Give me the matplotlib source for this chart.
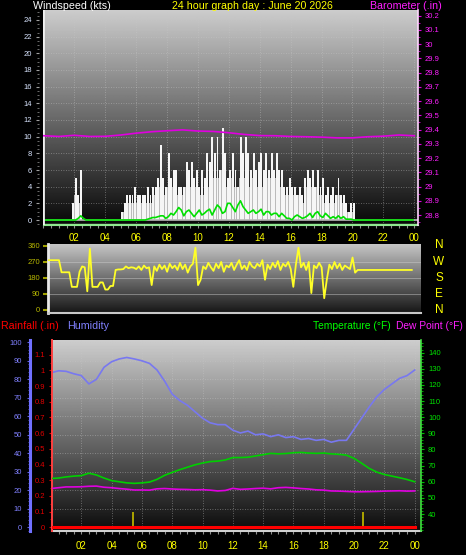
import numpy as np
import matplotlib
matplotlib.use('Agg')
import matplotlib.pyplot as plt
from matplotlib.ticker import MultipleLocator

plt.rcParams['font.family'] = ['Liberation Sans', 'DejaVu Sans']

W, H = 466, 555

# ---------------- data ----------------
# wind gust (kts), 10-minute steps from 00:00
gust = [0, 0, 0, 0, 0, 0,
        0, 0, 0, 0, 0, 2,
        5, 3, 6, 0, 0, 0,
        0, 0, 0, 0, 0, 0,
        0, 0, 0, 0, 0, 0,
        1, 2, 3, 3, 3, 4,
        3, 3, 3, 3, 4, 3,
        4, 4, 5, 9, 5, 4,
        8, 5, 6, 6, 4, 4,
        4, 7, 6, 7, 5, 6,
        4, 6, 5, 8, 7, 10,
        8, 10, 6, 11, 8, 5,
        6, 8, 6, 4, 10, 8,
        10, 8, 6, 8, 6, 7,
        8, 6, 8, 6, 8, 6,
        8, 6, 6, 4, 4, 5,
        4, 4, 3, 4, 3, 5,
        6, 5, 6, 4, 6, 4,
        5, 3, 4, 3, 4, 3,
        5, 3, 3, 2, 1, 2,
        2, 0, 0, 0, 0, 0,
        0, 0, 0, 0, 0, 0,
        0, 0, 0, 0, 0, 0,
        0, 0, 0, 0, 0, 0]
# wind speed (kts), 10-minute steps (grey bars under the gusts)
wind_speed = [0, 0, 0, 0, 0, 0,
              0, 0, 0, 0, 0, 1,
              3, 2, 3, 0, 0, 0,
              0, 0, 0, 0, 0, 0,
              0, 0, 0, 0, 0, 0,
              0, 1, 2, 2, 2, 2,
              2, 2, 2, 2, 2, 2,
              2, 3, 3, 4, 3, 3,
              4, 3, 4, 3, 3, 3,
              3, 4, 4, 4, 3, 4,
              3, 4, 3, 5, 4, 5,
              5, 5, 4, 6, 5, 4,
              4, 5, 4, 3, 5, 5,
              5, 5, 4, 5, 4, 4,
              5, 4, 5, 4, 5, 4,
              5, 4, 4, 3, 3, 3,
              3, 3, 2, 3, 2, 3,
              4, 3, 4, 3, 4, 3,
              3, 2, 3, 2, 3, 2,
              3, 2, 2, 1, 1, 1,
              1, 0, 0, 0, 0, 0,
              0, 0, 0, 0, 0, 0,
              0, 0, 0, 0, 0, 0,
              0, 0, 0, 0, 0, 0]
# average wind (kts), 10-minute steps
avg_wind = [0, 0, 0, 0, 0, 0,
            0, 0, 0, 0, 0, 0,
            0, 0.2, 0.5, 0.2, 0, 0,
            0, 0, 0, 0, 0, 0,
            0, 0, 0, 0, 0, 0,
            0, 0, 0, 0, 0, 0,
            0, 0, 0, 0, 0.1, 0.2,
            0.3, 0.3, 0.4, 0.5, 0.5, 0.2,
            0.4, 0.8, 0.6, 1.0, 1.5, 1.2,
            0.5, 1.0, 1.2, 0.8, 0.4, 0.8,
            1.2, 0.6, 0.8, 1.1, 1.3, 0.6,
            1.2, 1.8, 1.5, 0.8, 1.0, 2.0,
            2.0, 1.5, 1.0, 1.8, 2.3, 1.6,
            1.2, 0.8, 1.0, 1.2, 0.8, 1.0,
            1.3, 0.6, 1.0, 1.0, 0.6, 0.8,
            0.8, 0.4, 0.8, 0.5, 0.2, 0.2,
            0, 0.4, 0.6, 0.4, 0.2, 0.3,
            0.5, 0.8, 0.3, 0.8, 1.0, 0.5,
            0.3, 0.8, 0.5, 0.2, 0.4, 0.2,
            0.5, 0.2, 0.4, 0.1, 0.1, 0.1,
            0, 0, 0, 0, 0, 0,
            0, 0, 0, 0, 0, 0,
            0, 0, 0, 0, 0, 0,
            0, 0, 0, 0, 0, 0]
# barometer (inHg), hourly
baro = [29.357, 29.352, 29.360, 29.352, 29.353, 29.362, 29.375, 29.385,
        29.392, 29.398, 29.390, 29.387, 29.378, 29.366, 29.358, 29.357,
        29.352, 29.350, 29.347, 29.342, 29.342, 29.350, 29.354, 29.362, 29.357]
# wind direction (deg), 10-minute steps
wind_dir = [np.nan, np.nan, 280, 280, 280, 280,
            280, 212, 212, 212, 212, 130,
            130, 130, 215, 245, 240, 105,
            345, 130, 130, 130, 155, 155,
            115, 115, 135, 135, 225, 228,
            228, 230, 245, 235, 240, 238,
            230, 245, 225, 250, 235, 240,
            140, 245, 220, 255, 230, 250,
            215, 260, 235, 250, 225, 265,
            230, 255, 210, 245, 260, 350,
            140, 170, 245, 230, 265, 240,
            220, 260, 235, 270, 215, 250,
            240, 265, 225, 255, 280, 230,
            250, 225, 270, 245, 235, 260,
            245, 280, 170, 255, 230, 265,
            240, 275, 225, 260, 245, 270,
            230, 130, 255, 350, 240, 265,
            225, 270, 95, 250, 235, 265,
            240, 66, 170, 255, 230, 270,
            235, 260, 225, 250, 240, 230,
            295, 210, 225, 225, 225, 225,
            225, 225, 225, 225, 225, 225,
            225, 225, 225, 225, 225, 225,
            225, 225, 225, 225, 225, 225]
# half-hourly series
humidity = [83.5, 84.6, 84.3, 83.0, 82.0, 77.5, 80.0, 86.5, 89.5, 91.0,
            91.8, 91.0, 90.0, 88.6, 85.0, 79.0, 72.0, 68.5, 66.0, 62.5,
            59.0, 56.5, 55.5, 55.5, 52.5, 51.0, 52.0, 50.0, 50.5, 49.0,
            50.0, 48.5, 49.0, 47.5, 48.0, 47.0, 47.5, 46.0, 47.0, 47.0,
            53.0, 59.0, 65.0, 70.5, 74.5, 77.5, 80.5, 82.0, 85.0]
temperature = [62.0, 62.3, 63.0, 63.5, 63.8, 65.3, 64.2, 62.3, 60.7, 60.0,
               59.3, 59.0, 59.3, 59.8, 61.5, 64.0, 65.8, 67.5, 69.0, 70.5,
               71.6, 72.5, 72.8, 73.5, 75.0, 75.0, 75.2, 76.0, 76.8, 77.6,
               77.3, 77.5, 78.0, 78.2, 77.8, 77.6, 77.8, 77.3, 77.0, 76.5,
               74.5, 71.5, 68.3, 66.0, 64.5, 63.5, 62.5, 61.4, 60.0]
dew_point = [55.8, 56.3, 56.8, 56.8, 56.9, 57.2, 57.3, 56.6, 56.3, 55.8,
             55.4, 54.9, 54.9, 54.8, 55.6, 55.8, 55.5, 55.3, 55.2, 55.0,
             55.1, 54.8, 54.3, 54.6, 55.9, 55.3, 55.5, 55.8, 56.0, 55.6,
             56.3, 56.5, 56.2, 55.8, 55.5, 55.0, 54.8, 54.3, 54.2, 54.0,
             53.8, 53.8, 53.9, 54.0, 54.2, 54.3, 54.4, 54.2, 54.3]
rain_total = [0.0] * 49
rain_event_hours = [5.4, 20.6]
rain_event_amount = [0.1, 0.1]

hour_labels = ['02', '04', '06', '08', '10', '12', '14', '16', '18', '20', '22', '00']
title_text = '24 hour graph day : June 20 2026'

t10 = np.arange(len(gust)) / 6.0
t30 = np.arange(len(humidity)) / 2.0
t60 = np.arange(len(baro))
hour_ticks = np.arange(2, 25, 2)

# ---------------- figure ----------------
fig = plt.figure(figsize=(W / 100, H / 100), dpi=100, facecolor='black')


def pos(x0, y0, x1, y1):
    return [x0 / W, 1 - y1 / H, (x1 - x0) / W, (y1 - y0) / H]


def gradient(ax, top, bottom):
    g = np.linspace(top, bottom, 256).reshape(-1, 1)
    ax.imshow(g, cmap='gray', vmin=0, vmax=255, extent=[0, 1, 0, 1],
              transform=ax.transAxes, aspect='auto', zorder=0,
              interpolation='bilinear')


def px(p):
    return p * 72 / 100.0


DOT = (0, (1, 2))
GRID = dict(color='#c8c8c8', lw=0.6, ls=DOT, alpha=0.55, zorder=1)

# ===== top panel: windspeed & barometer =====
ax1 = fig.add_axes(pos(43, 10, 418, 225))
ax1.set_facecolor('black')
gradient(ax1, 205, 8)
for yv in range(2, 25, 2):
    ax1.axhline(yv, **GRID)
for xv in hour_ticks:
    ax1.axvline(xv, **GRID)
ax1.bar(t10, wind_speed, width=1 / 6, align='edge', color='#bcbcbc', lw=0, zorder=2)
ax1.bar(t10 + 1 / 30, gust, width=1 / 8, align='edge', color='#f6f6f6', lw=0, zorder=3)
ax1.axhline(0, color='#b8b8b8', lw=1.2, zorder=4)
ax1.plot(t10 + 1 / 12, avg_wind, color='#00e000', lw=1.2, zorder=5)
ax1.set_xlim(-0.03, 24.24)
ax1.set_ylim(-0.6, 25.2)
ax1.axhline(-0.45, color='#90e890', lw=1.0, zorder=4)
ax1.set_xticks(hour_ticks)
ax1.set_xticklabels(hour_labels)
ax1.xaxis.set_minor_locator(MultipleLocator(0.5))
ax1.tick_params(axis='x', which='both', colors='#909090', labelcolor='#ffff00',
                labelsize=7, length=2.2, width=0.8, pad=px(5))
ax1.set_yticks(range(0, 25, 2))
ax1.yaxis.set_minor_locator(MultipleLocator(0.5))
ax1.tick_params(axis='y', which='major', colors='#a0a0a0', labelcolor='#d8e4ff',
                labelsize=5.5, length=px(3), width=0.8, pad=px(4))
ax1.tick_params(axis='y', which='minor', colors='#808080', length=px(2), width=0.6)
ax1.spines['left'].set_position(('outward', px(4)))
ax1.spines['left'].set_color('none')
ax1.axvline(-0.03, color='#f0f0f0', lw=2.0, zorder=6)
for s in ['top', 'right']:
    ax1.spines[s].set_visible(False)
ax1.spines['bottom'].set_color('#90e890')

axb = ax1.twinx()
axb.plot(t60, baro, color='#e000e0', lw=1.2, zorder=6)
axb.set_ylim(28.73, 30.24)
axb.set_yticks(np.round(np.arange(28.8, 30.21, 0.1), 1))
axb.set_yticklabels(['28.8', '28.9', '29', '29.1', '29.2', '29.3', '29.4', '29.5',
                     '29.6', '29.7', '29.8', '29.9', '30', '30.1', '30.2'])
axb.yaxis.set_minor_locator(MultipleLocator(0.05))
axb.tick_params(axis='y', which='major', colors='#e000e0', labelcolor='#ff20ff',
                labelsize=5.5, length=px(3), width=0.8, pad=px(4))
axb.tick_params(axis='y', which='minor', colors='#e000e0', length=px(2), width=0.6)
for s in ['top', 'left', 'bottom']:
    axb.spines[s].set_visible(False)
axb.spines['right'].set_color('#ffd8ff')
axb.spines['right'].set_linestyle((0, (1, 1)))
axb.spines['right'].set_linewidth(1.2)

fig.text(33 / W, 1 - 6 / H, 'Windspeed (kts)', color='white', fontsize=7.7,
         ha='left', va='center')
fig.text(252 / W, 1 - 6 / H, title_text, color='#ffff00', fontsize=7.7,
         ha='center', va='center')
fig.text(406 / W, 1 - 6 / H, 'Barometer (.in)', color='#ff20ff', fontsize=7.7,
         ha='center', va='center')

# ===== middle panel: wind direction =====
ax2 = fig.add_axes(pos(48, 244, 421, 313))
ax2.set_facecolor('black')
gradient(ax2, 198, 22)
for yv in [90, 180, 270]:
    ax2.axhline(yv, color='#d0d0d0', lw=0.7, alpha=0.45, zorder=1)
ax2.plot(t10, wind_dir, color='#ffff28', lw=1.3, zorder=3)
ax2.set_xlim(0.29, 24.43)
ax2.set_ylim(-17, 371)
ax2.set_xticks([])
ax2.set_yticks([0, 90, 180, 270, 360])
ax2.tick_params(axis='y', colors='#a0a000', labelcolor='#b8b800', labelsize=5.5,
                length=px(5), width=1.5, pad=px(3))
ax2.spines['left'].set_color('#e8e8e8')
ax2.spines['left'].set_linewidth(2.0)
ax2.spines['bottom'].set_color('#c8c8c8')
ax2.spines['bottom'].set_linewidth(1.5)
for s in ['top', 'right']:
    ax2.spines[s].set_visible(False)
for lab, yy in zip(['N', 'W', 'S', 'E', 'N'], [245, 262, 278, 294, 310]):
    fig.text(439 / W, 1 - yy / H, lab, color='#ffff00', fontsize=8.5,
             ha='center', va='center')

# ===== bottom panel: rain, humidity, temperature, dew point =====
ax3 = fig.add_axes(pos(52, 340, 421, 531))
ax3.set_facecolor('black')
gradient(ax3, 205, 12)
for yv in range(10, 101, 10):
    ax3.axhline(yv, **GRID)
for xv in hour_ticks:
    ax3.axvline(xv, **GRID)
ax3.plot(t30, humidity, color='#7878f0', lw=1.2, zorder=4)
ax3.set_xlim(0.066, 24.42)
ax3.set_ylim(-2.0, 101.24)
ax3.set_xticks(hour_ticks)
ax3.set_xticklabels(hour_labels)
ax3.xaxis.set_minor_locator(MultipleLocator(0.5))
ax3.tick_params(axis='x', which='both', colors='#909090', labelcolor='#ffff00',
                labelsize=7, length=2.2, width=0.8, pad=px(7))
ax3.set_yticks(range(0, 101, 10))
ax3.yaxis.set_minor_locator(MultipleLocator(2))
ax3.tick_params(axis='y', which='major', colors='#6060e0', labelcolor='#8080ff',
                labelsize=5.5, length=px(3), width=0.8, pad=px(5))
ax3.tick_params(axis='y', which='minor', colors='#6060e0', length=px(2), width=0.6)
ax3.spines['left'].set_position(('outward', px(22)))
ax3.spines['left'].set_color('#7070ff')
ax3.spines['left'].set_linewidth(2.2)
ax3.spines['bottom'].set_color('#d0d0d0')
ax3.spines['bottom'].set_linewidth(1.5)
for s in ['top', 'right']:
    ax3.spines[s].set_visible(False)

axr = ax3.twinx()
axr.yaxis.tick_left()
axr.bar(rain_event_hours, rain_event_amount, width=0.1, color='#a8a000', lw=0, zorder=3)
axr.plot(t30, rain_total, color='#ff0000', lw=2.2, zorder=4)
axr.set_ylim(-0.0236, 1.194)
axr.set_yticks(np.round(np.arange(0, 1.11, 0.1), 1))
axr.set_yticklabels(['0', '0.1', '0.2', '0.3', '0.4', '0.5', '0.6', '0.7', '0.8',
                     '0.9', '1', '1.1'])
axr.yaxis.set_minor_locator(MultipleLocator(0.05))
axr.tick_params(axis='y', which='major', colors='#e00000', labelcolor='#e00000',
                labelsize=5.5, length=px(3), width=0.8, pad=px(4))
axr.tick_params(axis='y', which='minor', colors='#e00000', length=px(2), width=0.6)
for s in ['top', 'right', 'bottom']:
    axr.spines[s].set_visible(False)
axr.spines['left'].set_visible(True)
axr.spines['left'].set_color('#ff4040')
axr.spines['left'].set_linestyle((0, (1, 1)))
axr.spines['left'].set_linewidth(1.4)

axt = ax3.twinx()
axt.plot(t30, temperature, color='#00d000', lw=1.2, zorder=4)
axt.plot(t30, dew_point, color='#e000e0', lw=1.2, zorder=4)
axt.set_ylim(29.46, 147.9)
axt.set_yticks(range(40, 141, 10))
axt.yaxis.set_minor_locator(MultipleLocator(2))
axt.tick_params(axis='y', which='major', colors='#00c000', labelcolor='#00e000',
                labelsize=5.5, length=px(3), width=0.8, pad=px(4))
axt.tick_params(axis='y', which='minor', colors='#00c000', length=px(2), width=0.6)
for s in ['top', 'left', 'bottom']:
    axt.spines[s].set_visible(False)
axt.spines['right'].set_color('#40e040')
axt.spines['right'].set_linestyle((0, (1, 1)))
axt.spines['right'].set_linewidth(1.2)

fig.text(1 / W, 1 - 326 / H, 'Rainfall (.in)', color='#ff0000', fontsize=7.7,
         ha='left', va='center')
fig.text(67 / W, 1 - 326 / H, 'Humidity', color='#8080ff', fontsize=7.7,
         ha='left', va='center')
fig.text(391 / W, 1 - 326 / H, 'Temperature (°F)', color='#00ff00', fontsize=7.4,
         ha='right', va='center')
fig.text(463 / W, 1 - 326 / H, 'Dew Point (°F)', color='#ff20ff', fontsize=7.4,
         ha='right', va='center')

fig.savefig('out.png', dpi=100, facecolor='black')
